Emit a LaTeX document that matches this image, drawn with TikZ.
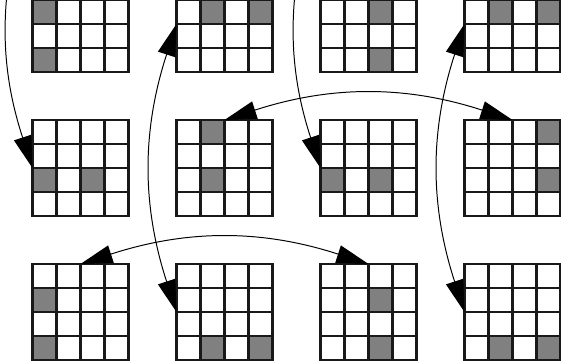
\documentclass[tikz,border=0pt]{standalone}
\usepackage{tikz}
\usetikzlibrary{arrows.meta,positioning}

\definecolor{cellgray}{RGB}{128,128,128}

\begin{document}
\begin{tikzpicture}[
    x=0.6cm, y=0.6cm,
    board/.style={rectangle, minimum size=2.4cm, inner sep=0pt, outer sep=0pt},
    gridline/.style={line width=1.6pt, line cap=rect, draw=black!90},
    pairlink/.style={line width=0.7pt, {Triangle[length=0.8cm,width=0.45cm]}-{Triangle[length=0.8cm,width=0.45cm]}},
    halflink/.style={line width=0.7pt, -{Triangle[length=0.8cm,width=0.45cm]}}
  ]
  \clip (-1.354,-0.083) rectangle (22.021,15);

  % boards, top row is cut by the page
  \node[board] (g11) at (2,14) {};
  \node[board, right=1.2cm of g11] (g12) {};
  \node[board, right=1.2cm of g12] (g13) {};
  \node[board, right=1.2cm of g13] (g14) {};
  \node[board, below=1.2cm of g11] (g21) {};
  \node[board, right=1.2cm of g21] (g22) {};
  \node[board, right=1.2cm of g22] (g23) {};
  \node[board, right=1.2cm of g23] (g24) {};
  \node[board, below=1.2cm of g21] (g31) {};
  \node[board, right=1.2cm of g31] (g32) {};
  \node[board, right=1.2cm of g32] (g33) {};
  \node[board, right=1.2cm of g33] (g34) {};

  % grey cells, row/column counted from the top left
  \foreach \b/\cells in {g11/{2/1,4/1}, g12/{2/2,2/4}, g13/{2/3,4/3}, g14/{2/2,2/4},
                         g21/{3/1,3/3}, g22/{1/2,3/2}, g23/{3/1,3/3}, g24/{1/4,3/4},
                         g31/{2/1,4/1}, g32/{4/2,4/4}, g33/{2/3,4/3}, g34/{4/2,4/4}}
    \foreach \i/\j in \cells
      \fill[cellgray] (\b.south west) ++({\j-1},{4-\i}) rectangle ++(1,1);

  \foreach \b in {g11,g12,g13,g14,g21,g22,g23,g24,g31,g32,g33,g34} {
    \draw[gridline, step=0.6cm] (\b.south west) grid (\b.north east);
    \draw[gridline] (\b.south west) rectangle (\b.north east);
  }

  % swaps
  \coordinate (up1) at (0,20);
  \coordinate (up3) at (12,20);
  \draw[halflink] (up1) to[bend right=18] (g21.west);
  \draw[halflink] (up3) to[bend right=18] (g23.west);
  \draw[pairlink] (g12.west) to[bend right=18] (g32.west);
  \draw[pairlink] (g14.west) to[bend right=18] (g34.west);
  \draw[pairlink] (g22.north) to[bend left=18] (g24.north);
  \draw[pairlink] (g31.north) to[bend left=18] (g33.north);
\end{tikzpicture}
\end{document}
